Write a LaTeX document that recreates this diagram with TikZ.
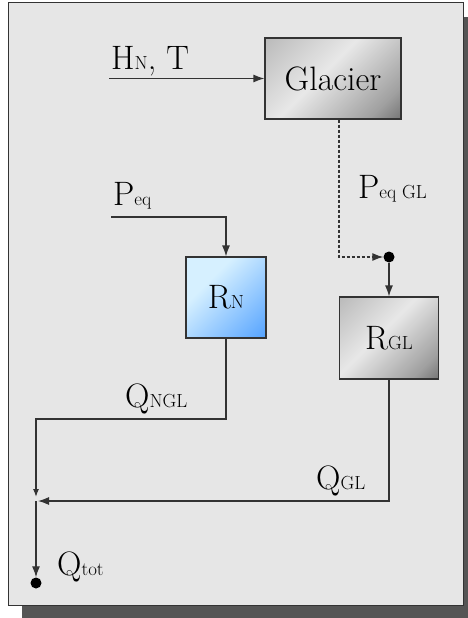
\documentclass[tikz,border=0pt]{standalone}
\usetikzlibrary{arrows.meta}
\definecolor{panelgray}{HTML}{E6E6E6}
\definecolor{shadowgray}{HTML}{555555}
\definecolor{linegray}{HTML}{333333}
\definecolor{glgray}{HTML}{A4A4A4}
\definecolor{gllight}{HTML}{E8E8E8}
\definecolor{glmid}{HTML}{A0A0A0}
\definecolor{gldark}{HTML}{3A3A3A}
\definecolor{rnlight}{HTML}{D6F0FF}
\definecolor{rndark}{HTML}{2E8CFF}
\pgfdeclarehorizontalshading{glaciershade}{100bp}{color(0bp)=(glgray); color(45bp)=(gllight); color(75bp)=(glmid); color(100bp)=(gldark)}
\pgfdeclarehorizontalshading{rnshade}{100bp}{color(0bp)=(rnlight); color(35bp)=(rnlight); color(100bp)=(rndark)}
\newcommand{\bigtxt}{\fontsize{34}{40}\selectfont}
\newcommand{\lowtxt}[1]{{\fontsize{19}{21}\selectfont #1}}
\tikzset{
  box/.style={draw=linegray, line width=1.2bp, inner sep=0pt, font=\bigtxt},
  lbl/.style={anchor=base west, inner sep=0pt, font=\bigtxt},
  arr/.style={draw=linegray, line width=1.2bp, -{Latex[length=11bp,width=8bp]}},
  dasharr/.style={arr, dashed, dash pattern=on 3bp off 2bp},
  junct/.style={circle, fill=black, inner sep=0pt, minimum size=11bp}
}
\begin{document}
\begin{tikzpicture}[x=1bp,y=-1bp]
  \useasboundingbox (0,0) rectangle (468,618);
  \fill[shadowgray] (22,17) rectangle (468,618);
  \draw[linegray, line width=1bp, fill=panelgray] (8,3) rectangle (463,605);
  % blocs
  \node[box, shading=glaciershade, shading angle=-45, minimum width=136bp, minimum height=81bp] (glacier) at (333,78.5) {Glacier};
  \node[box, shading=rnshade, shading angle=-45, minimum width=80bp, minimum height=81bp] (rn) at (226,297.5) {R\lowtxt{N}};
  \node[box, shading=glaciershade, shading angle=-45, minimum width=99bp, minimum height=82bp] (rgl) at (389,338) {R\lowtxt{GL}};
  \node[junct] (jgl) at (389,257) {};
  \node[junct] (jtot) at (36,583) {};
  % entrees et sorties
  \coordinate (hnin) at (109,78.5);
  \coordinate (peqin) at (111,217);
  \coordinate (qn) at (36,419);
  \coordinate (qsum) at (36,501);
  \node[lbl] (hnt) at (111,70) {H\lowtxt{N}, T};
  \node[lbl] (peq) at (113,205) {P\lowtxt{eq}};
  \node[lbl] (peqgl) at (358,198) {P\lowtxt{eq GL}};
  \node[lbl] (qngl) at (125,407) {Q\lowtxt{NGL}};
  \node[lbl] (qgl) at (316,489) {Q\lowtxt{GL}};
  \node[lbl] (qtot) at (57,575) {Q\lowtxt{tot}};
  \draw[arr] (hnin) -- (glacier);
  \draw[arr] (peqin) -| (rn.north);
  \draw[dasharr] ([xshift=6bp]glacier.south) |- (jgl);
  \draw[arr] (jgl) -- (rgl);
  \draw[arr, -{Latex[length=8bp,width=6bp]}] (rn.south) |- (qn) -- ([yshift=4bp]qsum);
  \draw[arr] (rgl.south) |- ([xshift=2bp]qsum);
  \draw[arr] (qsum) -- (jtot);
\end{tikzpicture}
\end{document}
